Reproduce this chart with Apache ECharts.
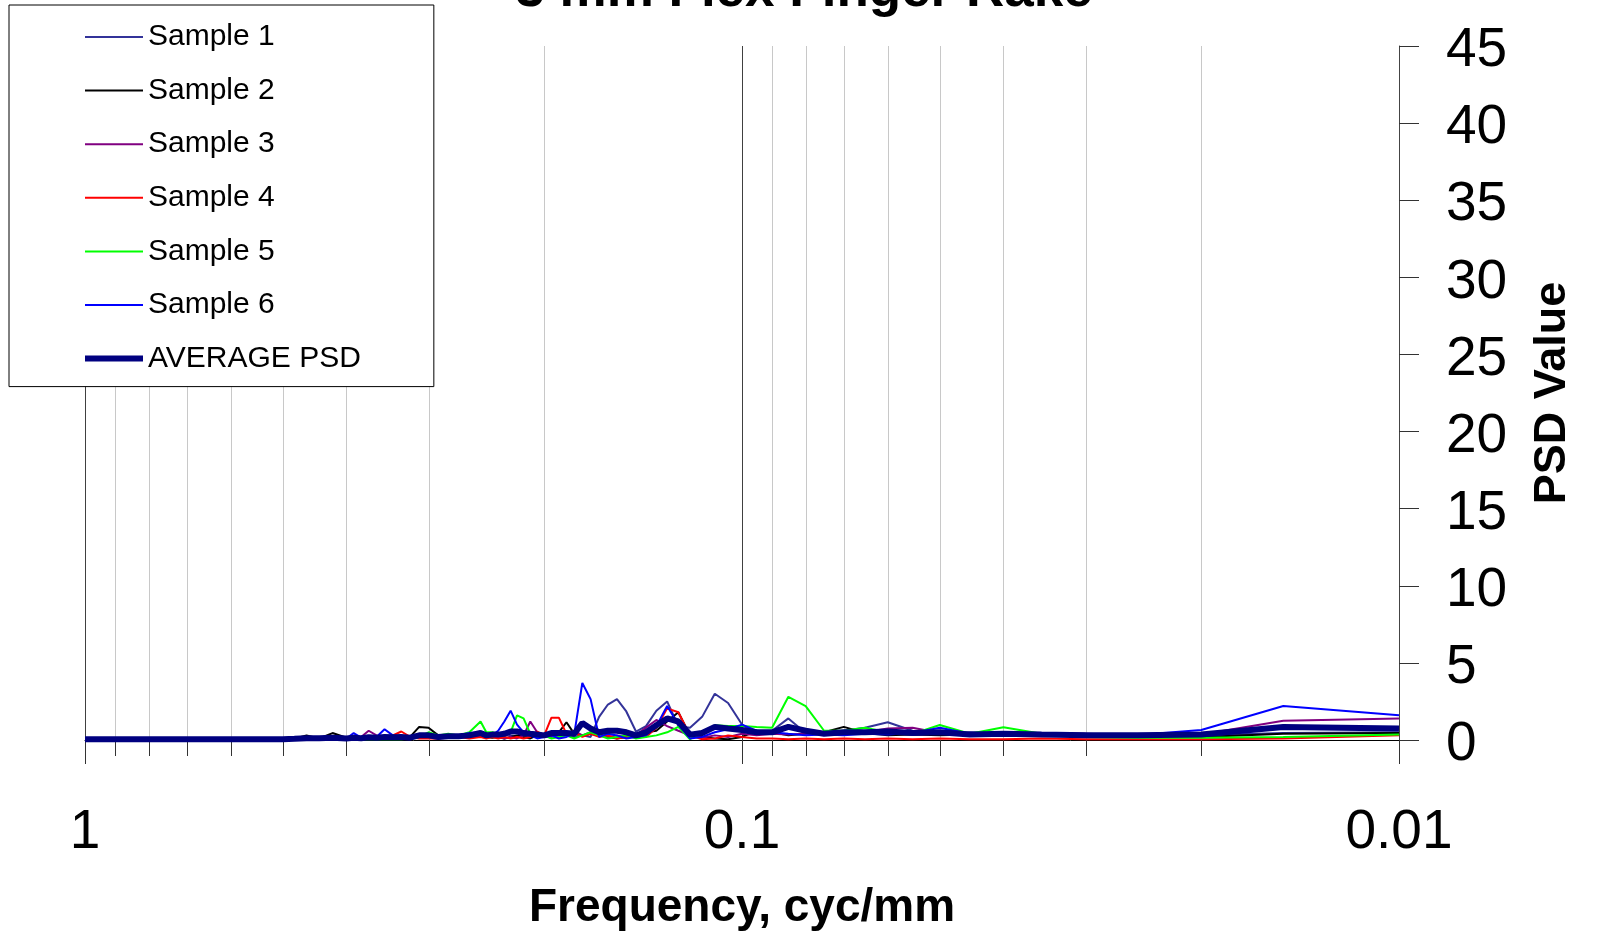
<!DOCTYPE html>
<html><head><meta charset="utf-8">
<script src="https://cdn.jsdelivr.net/npm/echarts@6/dist/echarts.min.js"></script>
<style>html,body{margin:0;padding:0;background:#fff}#c{width:1608px;height:939px}</style>
</head><body><div id="c"></div>
<script>
const chartTitle = '3 mm Flex Finger Rake';
const xAxisTitle = 'Frequency, cyc/mm';
const yAxisTitle = 'PSD Value';

const freq = [0.01,0.015,0.02,0.025,0.03,0.035,0.04,0.045,0.05,0.055,0.06,0.065,0.07,0.075,0.08,0.085,0.09,0.095,0.1,
  0.105,0.11,0.115,0.12,0.125,0.13,0.135,0.14,0.145,0.15,0.155,0.16,0.165,0.17,0.175,0.18,0.185,0.19,0.195,0.2,0.205,0.21,0.215,0.22,0.225,0.23,0.235,0.24,0.245,0.25,
  0.26,0.27,0.28,0.29,0.3,0.31,0.32,0.33,0.34,0.35,0.36,0.37,0.38,0.39,0.4,
  0.42,0.44,0.46,0.48,0.5,0.6,0.7,0.8,0.9,1.0];

const sample1 = [0.5,0.45,0.3,0.35,0.4,0.45,0.4,0.5,0.4,0.6,1.15,0.8,0.6,0.5,0.45,1.4,0.6,0.4,1.0,
  2.4,3.0,1.5,0.8,0.9,2.5,1.9,0.9,0.55,1.85,2.65,2.3,1.5,0.2,0.3,0.2,0.3,0.2,0.3,0.4,0.3,0.2,0.3,0.2,0.3,0.4,0.3,0.2,0.3,0.2,
  0.3,0.3,0.2,0.15,0.2,0.15,0.1,0.1,0.15,0.1,0.1,0.1,0.1,0.1,0.1,
  0.1,0.2,0.1,0.1,0.05,0.05,0.05,0.05,0.05,0.05];
const sample2 = [0.45,0.4,0.2,0.25,0.3,0.35,0.3,0.35,0.3,0.35,0.3,0.45,0.85,0.5,0.4,0.3,0.5,0.6,0.2,
  0.05,0.1,0.2,0.3,1.8,1.2,0.6,0.5,0.3,0.2,0.1,0.2,0.3,0.4,0.3,0.4,1.15,0.5,0.3,0.2,0.3,0.1,0.2,0.3,0.2,0.1,0.2,0.15,0.2,0.3,
  0.2,0.3,0.2,0.3,0.8,0.85,0.2,0.1,0.15,0.1,0.1,0.15,0.1,0.1,0.15,
  0.45,0.1,0.3,0.1,0.05,0.05,0.05,0.05,0.05,0.05];
const sample3 = [1.4,1.25,0.35,0.3,0.4,0.45,0.5,0.4,0.45,0.8,0.75,0.5,0.5,0.45,0.4,0.35,0.4,0.3,0.4,
  0.2,0.3,0.15,0.3,0.6,0.9,1.3,0.8,0.3,0.2,0.3,0.2,0.4,0.5,0.3,0.6,0.4,0.3,0.2,0.3,0.5,1.2,0.3,0.1,0.2,0.1,0.2,0.3,0.2,0.2,
  0.3,0.2,0.2,0.1,0.15,0.2,0.1,0.2,0.15,0.2,0.3,0.6,0.2,0.1,0.1,
  0.1,0.15,0.1,0.1,0.05,0.05,0.05,0.05,0.05,0.05];
const sample4 = [0.3,0.1,0.05,0.05,0.05,0.1,0.05,0.05,0.1,0.05,0.1,0.05,0.1,0.05,0.1,0.05,0.1,0.1,0.2,
  0.3,0.1,0.05,0.3,1.8,2.05,0.8,0.2,0.3,0.2,0.1,0.3,0.2,0.4,0.2,0.5,0.4,1.45,1.45,0.3,0.55,0.2,0.1,0.2,0.1,0.2,0.1,0.2,0.1,0.2,
  0.1,0.2,0.15,0.1,0.1,0.1,0.2,0.55,0.3,0.1,0.1,0.1,0.1,0.05,0.1,
  0.05,0.1,0.05,0.05,0.05,0.05,0.05,0.05,0.05,0.05];
const sample5 = [0.35,0.2,0.15,0.15,0.2,0.4,0.82,0.4,0.97,0.4,0.5,0.8,0.6,0.6,2.2,2.8,0.8,0.85,0.9,
  0.9,0.95,0.5,0.05,0.85,0.5,0.3,0.2,0.1,0.3,0.2,0.1,0.3,0.5,0.3,0.1,0.3,0.2,0.1,0.3,0.2,0.4,1.4,1.6,0.5,0.3,0.4,0.5,0.5,1.2,
  0.5,0.3,0.4,0.3,0.5,0.2,0.1,0.05,0.05,0.05,0.05,0.05,0.05,0.05,0.05,
  0.05,0.05,0.05,0.05,0.05,0.05,0.05,0.05,0.05,0.05];
const sample6 = [1.6,2.2,0.65,0.33,0.3,0.35,0.3,0.4,0.8,0.45,0.35,0.4,0.3,0.35,0.3,0.4,0.5,0.6,1.0,
  0.7,0.5,0.2,0.1,1.0,2.2,0.9,0.3,0.2,0.1,0.3,0.4,0.2,2.65,3.7,0.4,0.2,0.1,0.3,0.2,0.1,0.3,0.5,1.0,1.9,1.2,0.6,0.3,0.4,0.5,
  0.45,0.3,0.2,0.2,0.3,0.2,0.1,0.2,0.3,0.7,0.2,0.1,0.15,0.45,0.1,
  0.1,0.1,0.1,0.1,0.05,0.05,0.05,0.05,0.05,0.05];
const averagePsd = [0.75,0.85,0.35,0.3,0.3,0.35,0.4,0.35,0.5,0.45,0.55,0.5,0.5,0.4,0.6,0.85,0.5,0.5,0.65,
  0.75,0.85,0.45,0.35,1.2,1.4,0.95,0.5,0.3,0.5,0.6,0.6,0.5,0.75,1.1,0.4,0.45,0.45,0.45,0.3,0.35,0.4,0.45,0.55,0.55,0.4,0.35,0.35,0.3,0.45,
  0.3,0.25,0.25,0.2,0.3,0.3,0.15,0.2,0.18,0.2,0.15,0.18,0.12,0.14,0.1,
  0.14,0.12,0.12,0.08,0.05,0.05,0.05,0.05,0.05,0.05];

const seriesNames = ['Sample 1','Sample 2','Sample 3','Sample 4','Sample 5','Sample 6','AVERAGE PSD'];
const seriesValues = [sample1, sample2, sample3, sample4, sample5, sample6, averagePsd];
const seriesColors = ['#333399','#000000','#800080','#ff0000','#00ff00','#0000ff','#000080'];
const seriesWidths = [2,2,2,2,2,2,6];

const minorTickValues = [0.02,0.03,0.04,0.05,0.06,0.07,0.08,0.09,0.2,0.3,0.4,0.5,0.6,0.7,0.8,0.9];
const xTickLabels = {'0.01':'0.01','0.1':'0.1','1':'1'};

const FONT = 'Liberation Sans, Arial, sans-serif';
const chart = echarts.init(document.getElementById('c'));

const series = [{
  type: 'custom',
  z: 1,
  silent: true,
  clip: false,
  data: minorTickValues.map(f => [f, 0]),
  encode: {x: 0, y: 1},
  renderItem: function (params, api) {
    const f = api.value(0);
    const top = api.coord([f, 45]);
    const bot = api.coord([f, 0]);
    const x = Math.round(bot[0]) + 0.5;
    return {type: 'group', children: [
      {type: 'line', shape: {x1: x, y1: top[1], x2: x, y2: bot[1]}, style: {stroke: '#c8c8c8', lineWidth: 1}},
      {type: 'line', shape: {x1: x, y1: bot[1], x2: x, y2: bot[1] + 16}, style: {stroke: '#333', lineWidth: 1}}
    ]};
  }
}];
seriesNames.forEach((name, k) => {
  series.push({
    name: name,
    type: 'line',
    z: 3,
    symbol: 'none',
    showSymbol: false,
    data: freq.map((f, i) => [f, seriesValues[k][i]]),
    lineStyle: {color: seriesColors[k], width: seriesWidths[k]},
    itemStyle: {color: seriesColors[k]}
  });
});

chart.setOption({
  animation: false,
  backgroundColor: '#fff',
  title: {
    text: chartTitle, left: 'center', top: -35, padding: 0,
    textStyle: {fontSize: 53, fontWeight: 'bold', fontFamily: FONT, color: '#000', lineHeight: 53}
  },
  legend: {
    data: seriesNames.map((n, k) => ({name: n, lineStyle: {width: seriesWidths[k], color: seriesColors[k]}})),
    orient: 'vertical', left: 9, top: 5,
    padding: [17, 73, 13, 73],
    itemGap: 23.6, itemWidth: 58, itemHeight: 30, itemTextGap: 6,
    itemStyle: {opacity: 0},
    borderColor: '#000', borderWidth: 1, backgroundColor: '#fff',
    textStyle: {fontSize: 30, fontFamily: FONT, color: '#000', lineHeight: 30}
  },
  grid: {left: 85, right: 209, top: 46, bottom: 199, containLabel: false, outerBoundsMode: 'none'},
  xAxis: {
    type: 'log', logBase: 10, min: 0.01, max: 1, inverse: true, splitNumber: 2,
    name: xAxisTitle, nameLocation: 'middle', nameGap: 145,
    nameTextStyle: {fontSize: 46, fontWeight: 'bold', fontFamily: FONT, color: '#000'},
    axisLine: {show: true, onZero: false, lineStyle: {color: '#000', width: 1}},
    axisTick: {show: true, length: 24, lineStyle: {color: '#333'}},
    axisLabel: {
      margin: 65, fontSize: 55, fontFamily: FONT, color: '#000',
      formatter: v => xTickLabels[String(+(+v).toPrecision(3))] || String(+(+v).toPrecision(3))
    },
    splitLine: {show: true, lineStyle: {color: '#404040', width: 1}},
    minorTick: {show: false}
  },
  yAxis: {
    type: 'value', position: 'right', min: 0, max: 45, interval: 5,
    name: yAxisTitle, nameLocation: 'middle', nameRotate: 90, nameGap: 131,
    nameTextStyle: {fontSize: 45, fontWeight: 'bold', fontFamily: FONT, color: '#000'},
    axisLine: {show: true, onZero: false, lineStyle: {color: '#444', width: 1}},
    axisTick: {show: true, inside: false, length: 20, lineStyle: {color: '#333'}},
    axisLabel: {
      margin: 47, align: 'left',
      formatter: v => '{t|' + v + '}',
      rich: {t: {fontSize: 55, fontFamily: FONT, color: '#000', padding: [10, 0, 0, 0]}}
    },
    splitLine: {show: false}
  },
  series: series
});
</script></body></html>
